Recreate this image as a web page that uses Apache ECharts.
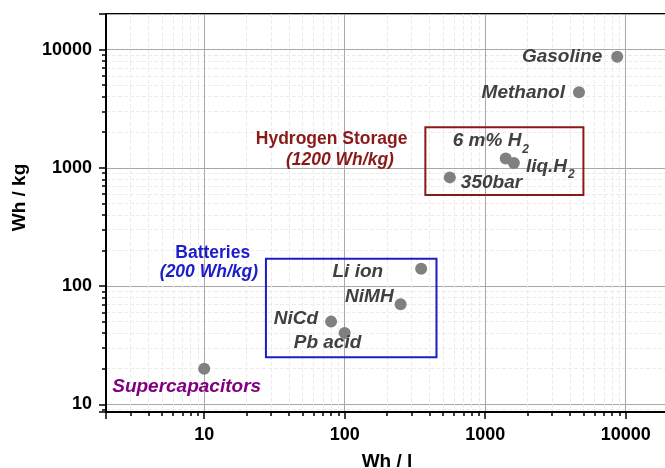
<!DOCTYPE html>
<html><head><meta charset="utf-8">
<script src="https://cdn.jsdelivr.net/npm/echarts@6/dist/echarts.min.js"></script>
<style>html,body{margin:0;padding:0;background:#fff}#c{width:665px;height:468px}</style>
</head><body><div id="c"></div>
<script>
// ---- data ----
const pointNames = ['Gasoline', 'Methanol', '6 m% H2', 'liq.H2', '350bar', 'Li ion', 'NiMH', 'NiCd', 'Pb acid', 'Supercapacitors'];
const whPerL  = [8700, 4650, 1400, 1600, 560, 350, 250, 80, 100, 10];
const whPerKg = [8700, 4350, 1200, 1100, 830, 140, 70, 50, 40, 20];
const xTickValues = [10, 100, 1000, 10000];
const yTickValues = [10, 100, 1000, 10000];
const hydrogenBox = [[375, 590], [5000, 2200]];
const batteryBox = [[27.5, 25], [450, 170]];
const noteTexts = ['Hydrogen Storage', '(1200 Wh/kg)', 'Batteries', '(200 Wh/kg)'];
const noteX = [80.7, 92.5, 11.5, 10.8];
const noteY = [1746, 1160, 190, 131];

// ---- styles ----
const FONT = "'Liberation Sans', Arial, sans-serif";
const LABEL_GRAY = '#404040';
const RED = '#8a1a1a';
const BLUE = '#1c1cc8';
const PURPLE = '#800080';
const labelLayout = {
  'Gasoline':        {align: 'right', offset: [-15, 0]},
  'Methanol':        {align: 'right', offset: [-14, 0]},
  '6 m% H2':         {align: 'left',  offset: [-53, -17], rich: '{m|6 m% H}{s|2}'},
  'liq.H2':          {align: 'left',  offset: [12, 4], rich: '{m|liq.H}{s|2}'},
  '350bar':          {align: 'left',  offset: [11, 5]},
  'Li ion':          {align: 'right', offset: [-38, 3]},
  'NiMH':            {align: 'right', offset: [-7, -8]},
  'NiCd':            {align: 'right', offset: [-13, -3]},
  'Pb acid':         {align: 'left',  offset: [-51, 10]},
  'Supercapacitors': {align: 'left',  offset: [-92, 18], color: PURPLE}
};
const noteStyle = [
  {color: RED, fontStyle: 'normal'},
  {color: RED, fontStyle: 'italic'},
  {color: BLUE, fontStyle: 'normal'},
  {color: BLUE, fontStyle: 'italic'}
];

const noBorder = {textBorderWidth: 0, textBorderColor: 'transparent', textShadowBlur: 0, opacity: 1};
const richDef = {
  m: Object.assign({fontFamily: FONT, fontSize: 19, fontWeight: 'bold', fontStyle: 'italic', color: LABEL_GRAY, lineHeight: 20, verticalAlign: 'top'}, noBorder),
  s: Object.assign({fontFamily: FONT, fontSize: 12, fontWeight: 'bold', fontStyle: 'italic', color: LABEL_GRAY, lineHeight: 12, padding: [12, 0, 0, 1], verticalAlign: 'top'}, noBorder)
};

const pointData = pointNames.map((n, i) => {
  const L = labelLayout[n];
  return {
    name: n,
    value: [whPerL[i], whPerKg[i]],
    label: Object.assign({
      show: true,
      position: 'inside',
      align: L.align,
      verticalAlign: 'middle',
      offset: L.offset,
      color: L.color || LABEL_GRAY,
      fontFamily: FONT, fontSize: 19, fontWeight: 'bold', fontStyle: 'italic',
      formatter: L.rich || n,
      rich: richDef
    }, noBorder)
  };
});

const noteData = noteTexts.map((t, i) => ({
  name: t,
  value: [noteX[i], noteY[i]],
  label: Object.assign({
    show: true, position: 'inside', align: 'center', verticalAlign: 'middle',
    color: noteStyle[i].color, fontStyle: noteStyle[i].fontStyle,
    fontWeight: 'bold', fontSize: 17.5, fontFamily: FONT, formatter: t
  }, noBorder)
}));

const isMajor = v => xTickValues.concat(yTickValues).some(t => Math.abs(t - v) / t < 1e-6);

const axisCommon = {
  type: 'log',
  logBase: 10,
  axisLine: {show: true, lineStyle: {color: '#000', width: 2}},
  axisTick: {show: true, inside: false, length: 7, lineStyle: {color: '#000', width: 1.5}},
  minorTick: {show: true, splitNumber: 9, length: 4, lineStyle: {color: '#000', width: 1.5}},
  splitLine: {show: true, lineStyle: {color: '#a8a8a8', width: 1}},
  minorSplitLine: {show: true, lineStyle: {color: '#ececec', width: 1, type: 'dashed'}},
  axisLabel: {
    show: true, color: '#000', fontFamily: FONT, fontWeight: 'bold', fontSize: 18, margin: 14,
    formatter: v => isMajor(v) ? String(Math.round(v)) : ''
  },
  nameLocation: 'middle',
  nameTextStyle: {color: '#000', fontFamily: FONT, fontWeight: 'bold', fontSize: 19}
};

const chart = echarts.init(document.getElementById('c'), null, {renderer: 'canvas'});
chart.setOption({
  animation: false,
  backgroundColor: '#fff',
  grid: {left: 106, top: 14, width: 562, height: 398, containLabel: false, outerBoundsMode: 'none',
    show: true, borderColor: '#000', borderWidth: 2, backgroundColor: 'transparent'},
  xAxis: Object.assign({}, axisCommon, {
    min: 2, max: 20000, name: 'Wh / l', nameGap: 40
  }),
  yAxis: Object.assign({}, axisCommon, {
    min: 8.6, max: 20000, name: 'Wh / kg', nameGap: 77,
    nameTextStyle: Object.assign({}, axisCommon.nameTextStyle, {padding: [0, 0, 0, 31]})
  }),
  series: [
    {
      type: 'scatter',
      name: 'boxes',
      data: [],
      silent: true,
      markArea: {
        silent: true,
        itemStyle: {color: 'transparent', borderWidth: 2},
        label: {show: false},
        data: [
          [{coord: hydrogenBox[0], itemStyle: {color: 'transparent', borderColor: RED, borderWidth: 2}}, {coord: hydrogenBox[1]}],
          [{coord: batteryBox[0], itemStyle: {color: 'transparent', borderColor: BLUE, borderWidth: 2}}, {coord: batteryBox[1]}]
        ]
      }
    },
    {
      type: 'scatter',
      name: 'storage',
      symbol: 'circle',
      symbolSize: 12,
      itemStyle: {color: '#808080', opacity: 1},
      emphasis: {disabled: true},
      silent: true,
      z: 5,
      data: pointData
    },
    {
      type: 'scatter',
      name: 'notes',
      symbolSize: 0,
      itemStyle: {color: 'transparent', opacity: 1},
      silent: true,
      emphasis: {disabled: true},
      z: 6,
      data: noteData
    }
  ]
});
</script>
</body></html>
